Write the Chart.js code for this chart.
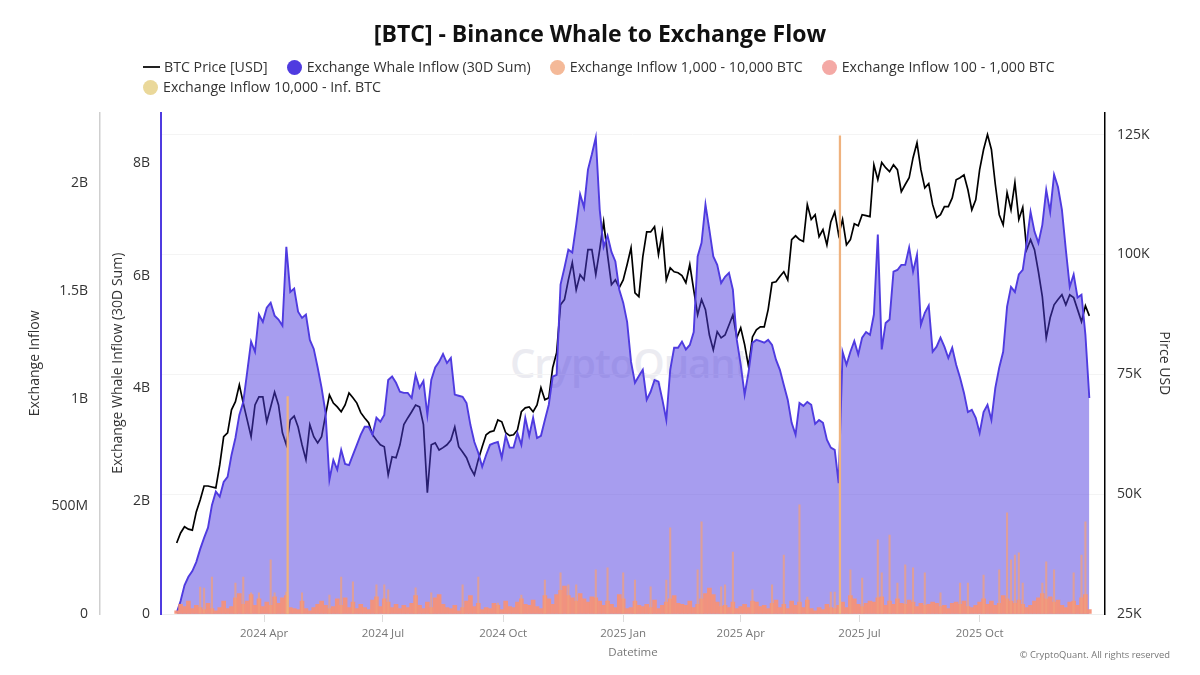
<!DOCTYPE html>
<html>
<head>
<meta charset="utf-8">
<title>Binance Whale to Exchange Flow</title>
<script src="https://cdn.jsdelivr.net/npm/chart.js@4"></script>
<style>
    html, body { margin: 0; padding: 0; background: #fff; }
    body { width: 1200px; height: 675px; position: relative; overflow: hidden; font-family: "Open Sans", sans-serif; }
    #flowChart { position: absolute; left: 0; top: 0; z-index: 2; }
    #watermark { position: absolute; left: 510px; top: 335px; font: 600 40px "Open Sans", sans-serif; color: #ebebf1; z-index: 1; letter-spacing: -1px; }
    #copyright { position: absolute; right: 30px; top: 648px; font-size: 9.4px; color: #777; z-index: 3; }
    #legend { position: absolute; left: 143px; top: 57px; width: 950px; z-index: 3; font-size: 14.2px; color: #333; line-height: 20px; }
    .legend-item { display: inline-flex; align-items: center; vertical-align: top; margin-right: 19px; height: 20px; white-space: nowrap; }
    .legend-dot { width: 15px; height: 15px; border-radius: 50%; margin-right: 5px; }
    .legend-line { width: 17px; height: 2px; background: #222; margin-right: 4px; }
</style>
</head>
<body>
<div id="watermark">CryptoQuant</div>
<canvas id="flowChart" width="1200" height="675"></canvas>
<div id="legend"></div>
<div id="copyright">© CryptoQuant. All rights reserved</div>

<script>
const firstSample = '2024-01-25';
const sampleStepDays = 3;

const tickDates = ['2024-04-01', '2024-07-01', '2024-10-01', '2025-01-01', '2025-04-01', '2025-07-01', '2025-10-01'];
const tickLabels = ['2024 Apr', '2024 Jul', '2024 Oct', '2025 Jan', '2025 Apr', '2025 Jul', '2025 Oct'];
const inflowTicks = [0, 500, 1000, 1500, 2000];

// BTC price, thousand USD
const btcPrice = [
    39.8, 41.9, 43.2, 42.7, 42.5, 46.3, 48.8, 51.7, 51.7, 51.5,
    51.3, 56.1, 62.0, 62.8, 67.6, 69.3, 72.8, 69.0, 65.5, 62.0,
    68.6, 70.3, 70.3, 65.1, 68.2, 71.3, 68.6, 62.8, 60.3, 65.5,
    66.3, 64.0, 60.3, 57.2, 64.5, 62.0, 60.7, 62.0, 66.5, 70.7,
    69.0, 68.2, 67.2, 68.6, 71.1, 70.1, 69.0, 67.0, 65.9, 64.9,
    62.4, 61.3, 60.3, 59.9, 54.0, 57.8, 57.6, 60.3, 64.5, 65.9,
    67.2, 68.6, 68.2, 64.5, 50.3, 60.3, 60.7, 59.2, 59.7, 60.3,
    61.3, 64.0, 59.9, 58.8, 57.6, 55.5, 54.0, 57.2, 59.9, 62.4,
    63.0, 63.2, 65.5, 65.1, 62.8, 62.2, 62.4, 63.4, 67.2, 68.0,
    68.2, 67.2, 68.6, 72.2, 69.7, 70.1, 76.4, 79.5, 89.5, 90.6,
    94.7, 98.3, 92.6, 95.8, 94.7, 101.0, 101.0, 95.8, 101.0, 106.8,
    99.9, 93.7, 94.7, 93.1, 94.7, 97.9, 101.4, 92.0, 91.2, 99.5,
    104.7, 104.7, 105.8, 100.0, 104.7, 94.7, 97.2, 96.4, 96.2, 95.6,
    94.1, 97.9, 92.6, 87.4, 90.6, 88.5, 83.2, 80.1, 83.9, 82.6,
    83.2, 85.3, 87.4, 82.6, 84.7, 81.2, 76.6, 82.8, 84.3, 84.9,
    84.9, 88.5, 94.1, 94.3, 95.4, 96.4, 94.7, 103.1, 103.9, 103.1,
    102.7, 110.4, 107.3, 108.3, 103.7, 105.2, 102.0, 106.8, 108.9, 104.1,
    107.3, 102.0, 103.1, 106.4, 106.0, 108.3, 108.1, 107.9, 118.7, 115.6,
    119.2, 118.1, 117.3, 118.7, 117.7, 113.1, 114.6, 116.0, 120.2, 123.3,
    117.7, 113.9, 114.8, 110.4, 107.7, 108.3, 110.0, 110.0, 111.8, 115.6,
    116.0, 116.6, 113.5, 109.3, 111.4, 117.7, 121.9, 125.0, 121.9, 114.6,
    108.3, 106.2, 112.9, 109.3, 115.0, 107.3, 109.8, 101.0, 103.1, 101.0,
    96.4, 91.2, 82.6, 86.8, 89.5, 90.6, 91.6, 89.5, 91.6, 91.0,
    88.5, 86.0, 89.3, 87.2
];

// Exchange Whale Inflow 30D sum, billions
const whaleInflow = [
    0.02, 0.23, 0.51, 0.66, 0.76, 0.92, 1.15, 1.35, 1.53, 1.93,
    2.17, 2.08, 2.34, 2.43, 2.82, 3.12, 3.53, 3.76, 4.29, 4.83,
    4.65, 5.31, 5.18, 5.43, 5.52, 5.29, 5.22, 5.11, 6.51, 5.71,
    5.77, 5.36, 5.25, 5.31, 4.86, 4.70, 4.37, 4.01, 3.57, 2.38,
    2.73, 2.56, 2.91, 2.66, 2.64, 2.82, 3.00, 3.18, 3.32, 3.32,
    3.18, 3.48, 3.41, 3.53, 4.15, 4.21, 4.10, 3.94, 3.92, 3.92,
    3.83, 4.24, 4.01, 4.13, 3.53, 4.15, 4.37, 4.47, 4.61, 4.45,
    4.54, 3.89, 3.87, 3.85, 3.74, 3.35, 3.05, 2.86, 2.61, 2.82,
    3.00, 3.03, 3.05, 2.77, 3.16, 2.95, 2.95, 3.21, 3.00, 3.48,
    3.16, 3.48, 3.12, 3.16, 3.44, 3.71, 4.21, 4.24, 5.84, 6.14,
    6.46, 6.41, 6.90, 7.44, 7.21, 7.88, 8.15, 8.45, 7.17, 6.51,
    6.71, 6.42, 6.25, 5.75, 5.52, 5.18, 4.47, 4.10, 4.22, 4.33,
    3.80, 3.94, 4.15, 4.12, 3.80, 3.44, 4.33, 4.72, 4.72, 4.83,
    4.69, 4.77, 5.00, 6.34, 6.58, 7.26, 6.81, 6.34, 6.19, 5.87,
    5.98, 6.05, 5.75, 4.86, 4.42, 3.89, 4.29, 4.81, 4.86, 4.84,
    4.81, 4.86, 4.77, 4.51, 4.33, 4.06, 3.80, 3.39, 3.18, 3.74,
    3.69, 3.76, 3.71, 3.37, 3.44, 3.39, 3.09, 2.95, 2.91, 2.32,
    4.65, 4.42, 4.65, 4.84, 4.60, 4.90, 5.00, 4.95, 5.31, 6.73,
    4.69, 5.16, 5.22, 6.07, 6.10, 6.19, 6.19, 6.50, 6.07, 6.37,
    5.13, 5.34, 5.47, 4.65, 4.74, 4.90, 4.74, 4.54, 4.72, 4.42,
    4.19, 3.92, 3.58, 3.62, 3.48, 3.21, 3.58, 3.71, 3.44, 4.01,
    4.37, 4.65, 5.45, 5.80, 5.71, 6.02, 6.10, 6.58, 7.13, 6.78,
    6.58, 6.90, 7.52, 7.13, 7.79, 7.57, 7.17, 6.46, 5.80, 6.02,
    5.61, 5.66, 4.95, 3.83
];

// Exchange Inflow 1,000 - 10,000 BTC, millions
const inflow1k = [
    0, 0, 0, 0, 0, 0, 125, 120, 0, 172,
    0, 0, 0, 0, 0, 144, 0, 172, 0, 98,
    0, 98, 0, 0, 251, 98, 0, 0, 102, 0,
    0, 0, 98, 0, 0, 0, 0, 0, 0, 88,
    0, 0, 172, 0, 0, 149, 0, 0, 0, 0,
    0, 135, 0, 135, 112, 0, 0, 0, 0, 0,
    0, 121, 0, 0, 0, 98, 0, 0, 0, 0,
    0, 0, 0, 135, 0, 0, 0, 172, 0, 0,
    0, 0, 51, 0, 0, 0, 0, 0, 88, 0,
    0, 0, 0, 0, 158, 0, 0, 0, 191, 0,
    135, 0, 135, 0, 0, 0, 0, 205, 0, 0,
    214, 0, 0, 0, 191, 0, 0, 158, 0, 0,
    0, 126, 0, 0, 0, 158, 400, 0, 0, 0,
    0, 0, 0, 205, 428, 0, 0, 0, 0, 126,
    135, 0, 288, 0, 0, 0, 0, 112, 0, 0,
    0, 0, 135, 0, 0, 274, 0, 0, 0, 507,
    0, 79, 0, 0, 0, 0, 0, 102, 102, 0,
    0, 0, 205, 0, 0, 167, 0, 0, 0, 344,
    191, 0, 367, 0, 144, 0, 228, 0, 214, 0,
    0, 191, 0, 0, 0, 98, 0, 0, 0, 0,
    144, 0, 144, 0, 0, 0, 181, 0, 0, 0,
    205, 0, 470, 251, 274, 284, 144, 0, 0, 0,
    0, 144, 242, 0, 205, 0, 0, 0, 0, 191,
    0, 274, 428, 0
];

// Exchange Inflow 100 - 1,000 BTC, millions
const inflow100 = [
    15, 45, 35, 60, 25, 40, 30, 20, 50, 25,
    15, 30, 60, 25, 35, 75, 95, 45, 60, 90,
    40, 70, 35, 55, 40, 80, 50, 75, 85, 30,
    25, 20, 60, 25, 15, 30, 45, 60, 40, 25,
    35, 70, 40, 75, 30, 55, 25, 45, 30, 20,
    65, 80, 35, 70, 55, 30, 45, 25, 40, 30,
    50, 85, 40, 25, 55, 30, 75, 90, 45, 30,
    25, 40, 15, 30, 60, 85, 35, 50, 20, 30,
    25, 50, 40, 20, 60, 35, 30, 55, 70, 45,
    40, 65, 35, 25, 85, 70, 45, 90, 110, 130,
    85, 75, 60, 95, 70, 55, 80, 75, 60, 40,
    60, 45, 30, 90, 70, 25, 30, 60, 40, 35,
    45, 30, 65, 25, 40, 55, 70, 85, 50, 45,
    40, 60, 30, 45, 70, 95, 120, 90, 55, 35,
    40, 30, 55, 25, 35, 45, 30, 60, 55, 35,
    40, 25, 50, 65, 30, 45, 25, 60, 40, 55,
    30, 65, 25, 15, 30, 20, 45, 30, 25, 40,
    55, 30, 85, 70, 45, 35, 50, 60, 55, 75,
    80, 40, 60, 45, 70, 50, 45, 65, 55, 35,
    50, 40, 45, 55, 50, 35, 40, 25, 50, 55,
    45, 60, 35, 30, 40, 55, 70, 45, 60, 40,
    50, 85, 70, 60, 50, 65, 45, 30, 40, 60,
    75, 95, 70, 80, 55, 65, 40, 30, 55, 60,
    40, 75, 90, 20
];

// Exchange Inflow 10,000 - Inf. BTC only shows on two days, millions
const inflow10kDates = ['2024-04-19', '2025-06-16'];
const inflow10k = [1010, 2220];

const legendNames = ['BTC Price [USD]', 'Exchange Whale Inflow (30D Sum)', 'Exchange Inflow 1,000 - 10,000 BTC', 'Exchange Inflow 100 - 1,000 BTC', 'Exchange Inflow 10,000 - Inf. BTC'];
const legendColors = ['#222222', '#4f3be0', '#f4b998', '#f4a9a5', '#ead89a'];

function dayOf(iso) {
    return Date.parse(iso) / 86400000;
}

const sampleDays = whaleInflow.map((v, i) => dayOf(firstSample) + i * sampleStepDays);

function toPoints(values) {
    return values.map((v, i) => ({ x: sampleDays[i], y: v }));
}

function setWidth(px) {
    return scale => { scale.width = px; };
}

document.getElementById('legend').innerHTML = legendNames.map((name, i) => {
    const mark = i === 0
        ? '<span class="legend-line"></span>'
        : `<span class="legend-dot" style="background:${legendColors[i]}"></span>`;
    return `<span class="legend-item">${mark}${name}</span>`;
}).join('');

const axisFont = { family: '"Open Sans", sans-serif', size: 14 };
const titleFont = { family: '"Open Sans", sans-serif', size: 14 };

new Chart(document.getElementById('flowChart'), {
    type: 'line',
    data: {
        datasets: [
            {
                label: legendNames[0],
                data: toPoints(btcPrice),
                yAxisID: 'yPrice',
                borderColor: '#000',
                borderWidth: 1.7,
                pointRadius: 0,
                order: 10
            },
            {
                label: legendNames[1],
                data: toPoints(whaleInflow),
                yAxisID: 'yWhale',
                borderColor: '#4f3be0',
                borderWidth: 1.9,
                backgroundColor: 'rgba(79,59,224,0.5)',
                fill: 'origin',
                pointRadius: 0,
                order: 9
            },
            {
                type: 'bar',
                label: legendNames[3],
                data: toPoints(inflow100),
                yAxisID: 'yInflow',
                backgroundColor: 'rgba(244,146,122,0.95)',
                barThickness: 4,
                grouped: false,
                order: 3
            },
            {
                type: 'bar',
                label: legendNames[2],
                data: toPoints(inflow1k),
                yAxisID: 'yInflow',
                backgroundColor: 'rgba(240,160,125,0.75)',
                barThickness: 1.4,
                grouped: false,
                order: 2
            },
            {
                type: 'bar',
                label: legendNames[4],
                data: inflow10k.map((v, i) => ({ x: dayOf(inflow10kDates[i]), y: v })),
                yAxisID: 'yInflow',
                backgroundColor: '#efb27e',
                barThickness: 1.6,
                grouped: false,
                order: 1
            }
        ]
    },
    options: {
        responsive: false,
        animation: false,
        events: [],
        plugins: {
            legend: { display: false },
            tooltip: { enabled: false },
            title: {
                display: true,
                text: '[BTC] - Binance Whale to Exchange Flow',
                color: '#111',
                font: { family: '"Open Sans", sans-serif', size: 23, weight: 'bold' },
                padding: { top: 22, bottom: 63 }
            }
        },
        scales: {
            x: {
                type: 'linear',
                min: dayOf('2024-01-13'),
                max: dayOf('2026-01-05'),
                offset: false,
                afterFit: scale => { scale.height = 61; },
                afterBuildTicks: scale => {
                    scale.ticks = tickDates.map(d => ({ value: dayOf(d) }));
                },
                grid: { drawOnChartArea: false, offset: false, color: '#dddddd', tickLength: 8 },
                border: { color: '#eeeeee' },
                ticks: {
                    autoSkip: false,
                    maxRotation: 0,
                    color: '#777',
                    font: { family: '"Open Sans", sans-serif', size: 11.5 },
                    padding: 5,
                    callback: v => tickLabels[tickDates.findIndex(d => dayOf(d) === v)]
                },
                title: {
                    display: true,
                    text: 'Datetime',
                    color: '#777',
                    font: { family: '"Open Sans", sans-serif', size: 11.5 },
                    padding: { top: 0, bottom: 15 }
                }
            },
            yInflow: {
                position: 'left',
                weight: 2,
                min: 0,
                max: 2328,
                afterFit: setWidth(100),
                afterBuildTicks: scale => {
                    scale.ticks = inflowTicks.map(v => ({ value: v }));
                },
                grid: { drawOnChartArea: false, drawTicks: false },
                border: { color: '#cfcfcf', width: 1.5 },
                ticks: {
                    padding: 12,
                    color: '#333',
                    font: axisFont,
                    callback: v => v === 0 ? '0' : (v >= 1000 ? (v / 1000) + 'B' : v + 'M')
                },
                title: { display: true, text: 'Exchange Inflow', color: '#333', font: titleFont, padding: { top: 27, bottom: 0 } }
            },
            yWhale: {
                position: 'left',
                weight: 1,
                min: 0,
                max: 8.89,
                afterFit: setWidth(61),
                grid: { drawOnChartArea: false, drawTicks: false },
                border: { color: '#4f3be0', width: 2 },
                ticks: {
                    stepSize: 2,
                    includeBounds: false,
                    padding: 11,
                    color: '#333',
                    font: axisFont,
                    callback: v => v === 0 ? '0' : v + 'B'
                },
                title: { display: true, text: 'Exchange Whale Inflow (30D Sum)', color: '#333', font: titleFont, padding: { top: 10, bottom: 0 } }
            },
            yPrice: {
                position: 'right',
                min: 25,
                max: 129.6,
                afterFit: setWidth(95),
                grid: { color: '#f4f4f4', drawTicks: false },
                border: { color: '#000', width: 1.5 },
                ticks: {
                    stepSize: 25,
                    includeBounds: false,
                    padding: 12,
                    color: '#333',
                    font: axisFont,
                    callback: v => v + 'K'
                },
                title: { display: true, text: 'Pirce USD', color: '#333', font: titleFont, padding: { top: 28, bottom: 0 } }
            }
        }
    }
});
</script>
</body>
</html>
